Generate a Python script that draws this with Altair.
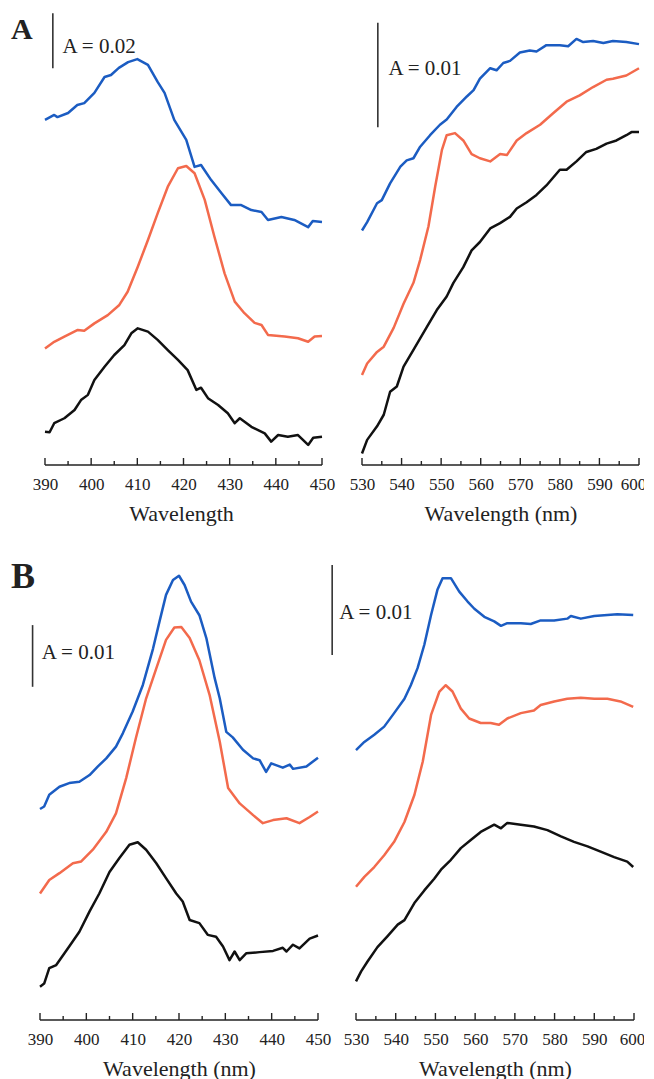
import altair as alt
import pandas as pd

FONT = "Liberation Serif"
BLUE = "#1b5cc2"
ORANGE = "#f36a4c"
BLACK = "#111111"
INK = "#222222"

# ---------------- Panel A, Soret region (absorbance, mA) ----------------
AL_BLUE_WL = [390, 392, 392.7, 395, 397, 398.5, 400.7, 402.9, 404.3, 406, 408, 410, 412.3, 414.4, 415.9, 418,
              420.6, 422.4, 423.8, 426, 428.2, 430.3, 432.5, 434.7, 436.9, 438.3, 441.2, 444, 447, 448, 450]
AL_BLUE = [125.5, 127.3, 126.5, 128.0, 130.9, 131.6, 135.3, 141.1, 141.8, 144.4, 146.5, 147.6, 145.5, 139.3, 135.3,
           125.5, 118.2, 108.4, 109.1, 103.6, 98.9, 94.5, 94.5, 92.7, 92.0, 89.1, 90.2, 89.1, 86.5, 88.7, 88.4]
AL_ORANGE_WL = [390, 392, 394.2, 397.1, 398.5, 400.7, 403.6, 406.1, 407.9, 410.1, 412.3, 414.4, 416.6, 418.8, 420.6,
                422.4, 424.6, 426.7, 428.9, 431.1, 433.2, 435.4, 436.9, 438.3, 441.9, 444.8, 447, 448.4, 450]
AL_ORANGE = [42.4, 44.8, 46.7, 49.1, 48.8, 51.5, 54.5, 58.2, 63.0, 72.1, 81.8, 91.5, 101.2, 107.9, 108.7, 106.1,
             96.4, 83.0, 69.7, 59.4, 55.2, 51.7, 50.9, 47.3, 46.7, 46.1, 44.8, 46.7, 46.9]
AL_BLACK_WL = [390, 391, 392, 394.2, 396.4, 397.8, 399.3, 400.7, 402.9, 405, 407.2, 408.7, 410.1, 412.3, 414.4,
               416.6, 418.8, 420.9, 422.8, 423.8, 425.3, 427.5, 429.6, 431.1, 432.2, 434.7, 437.6, 439, 440.5,
               442.6, 444.8, 447, 448.1, 450]
AL_BLACK = [12.1, 11.9, 15.2, 17.0, 20.0, 23.6, 25.5, 30.9, 35.7, 40.0, 43.6, 47.9, 49.7, 48.5, 45.5, 41.8, 38.2,
            34.5, 27.3, 28.1, 24.3, 21.8, 18.8, 15.2, 17.0, 13.9, 11.5, 8.5, 10.9, 10.3, 10.9, 7.3, 9.9, 10.3]

# ---------------- Panel A, Q-band region ----------------
AR_BLUE_WL = [530, 531.3, 533.8, 535, 537.1, 539.7, 541.3, 543, 544.7, 547.2, 549.7, 551.4, 553.9, 556.5, 558.2,
              559.8, 562.4, 564, 565.7, 567.4, 569.9, 572.4, 574.1, 576.6, 580, 582.1, 584.2, 585.9, 588.4, 591,
              593.4, 596.8, 600]
AR_BLUE = [22.4, 23.2, 25.0, 25.3, 26.9, 28.5, 29.1, 29.3, 30.4, 31.5, 32.5, 33.0, 34.2, 35.2, 35.8, 36.9, 37.9,
           37.7, 38.4, 38.6, 39.4, 39.6, 39.5, 40.1, 40.1, 40.0, 40.7, 40.4, 40.5, 40.3, 40.5, 40.4, 40.2]
AR_ORANGE_WL = [530, 531.3, 533.8, 535.5, 538, 540.5, 543, 544.7, 546.8, 548.5, 550.2, 551.4, 553.5, 555.6, 557.7,
                559.8, 562.4, 564.9, 566.6, 569.1, 571.6, 575, 578.3, 581.7, 585, 588.4, 591.8, 593.4, 596.8, 600]
AR_ORANGE = [8.6, 9.7, 10.8, 11.3, 13.1, 15.4, 17.4, 19.6, 22.8, 26.6, 30.1, 31.5, 31.7, 31.0, 29.7, 29.3, 29.0,
             29.7, 29.6, 31.0, 31.7, 32.5, 33.6, 34.7, 35.3, 36.1, 36.8, 36.9, 37.2, 37.9]
AR_BLACK_WL = [530, 531.3, 533.8, 535.5, 537.1, 538.8, 540.5, 543, 546.4, 548.9, 551.4, 553.1, 555.6, 557.7, 559.8,
               562.4, 564.9, 567.4, 569.1, 571.6, 574.1, 576.6, 580, 581.7, 584.2, 586.7, 589.2, 591.8, 594.3,
               596.8, 598.1, 600]
AR_BLACK = [1.1, 2.4, 3.7, 4.8, 7.0, 7.5, 9.4, 11.0, 13.2, 14.8, 16.1, 17.4, 18.9, 20.5, 21.3, 22.6, 23.1, 23.7,
            24.5, 25.1, 25.8, 26.7, 28.2, 28.2, 29.0, 29.9, 30.2, 30.7, 31.0, 31.5, 31.8, 31.8]

# ---------------- Panel B, Soret region ----------------
BL_BLUE_WL = [390, 390.9, 392, 394.2, 396.3, 398.5, 400.7, 402.5, 404.3, 406.4, 407.9, 410, 412.2, 414.4, 415.8,
              417.2, 418.7, 420, 421.2, 422.6, 424.4, 425.9, 427.7, 428.8, 430.2, 431.6, 433.8, 436, 437.4, 438.8,
              439.9, 442.4, 443.9, 444.6, 447.5, 450]
BL_BLUE = [34.2, 34.6, 36.5, 37.8, 38.4, 38.6, 39.7, 41.1, 42.4, 44.3, 46.5, 50.0, 54.3, 60.2, 64.6, 68.9, 71.3,
           72.0, 70.5, 67.8, 65.6, 61.9, 55.4, 52.1, 46.7, 45.8, 43.8, 42.4, 42.1, 40.2, 41.6, 40.9, 41.4, 40.7,
           41.1, 42.5]
BL_ORANGE_WL = [390, 392, 394.2, 397.1, 398.9, 401.4, 404.3, 406.4, 408.6, 410.7, 412.9, 415.1, 417.2, 419, 420.5,
                422.3, 424.4, 426.6, 428.8, 430.6, 433.1, 436, 438.1, 440.3, 443.2, 446, 448.2, 450]
BL_ORANGE = [20.5, 22.7, 23.8, 25.4, 25.7, 27.6, 30.5, 33.5, 39.2, 45.7, 52.1, 57.0, 61.6, 63.6, 63.7, 61.9, 58.3,
             52.7, 45.1, 37.6, 35.1, 33.2, 31.9, 32.4, 32.7, 31.9, 32.9, 33.8]
BL_BLACK_WL = [390, 390.9, 392, 393.5, 396.3, 398.5, 400.7, 402.8, 405, 407.1, 409.3, 411.1, 412.9, 415.1, 417.2,
               419.4, 420.8, 422.3, 424.4, 426.2, 428, 429.5, 430.9, 432, 433.1, 434.5, 437.4, 440.3, 442.4, 443.2,
               444.6, 446, 448.2, 450]
BL_BLACK = [5.4, 5.9, 8.4, 8.9, 11.9, 14.3, 17.6, 20.5, 24.0, 26.2, 28.4, 28.8, 27.6, 25.4, 23.0, 20.5, 19.2, 16.2,
            15.7, 13.8, 13.5, 11.9, 9.7, 11.1, 9.7, 10.8, 11.0, 11.2, 11.7, 11.1, 12.2, 11.6, 13.2, 13.7]

# ---------------- Panel B, Q-band region ----------------
BR_BLUE_WL = [530, 532.1, 534.6, 537.1, 539.6, 542.2, 543.8, 545.5, 547.2, 548.9, 550.5, 551.8, 553.9, 556, 558.1,
              559.8, 562.3, 564.8, 566.5, 568.1, 571.5, 574, 576.5, 579.9, 583.2, 584.1, 586.6, 590, 593.3, 595.8,
              599.8]
BR_BLUE = [30.0, 30.9, 31.7, 32.6, 34.1, 35.7, 37.2, 39.1, 41.7, 45.0, 47.8, 49.1, 49.1, 47.6, 46.5, 45.7, 44.8,
           44.3, 43.8, 44.1, 44.1, 44.0, 44.4, 44.4, 44.6, 44.9, 44.6, 44.9, 45.0, 45.1, 45.0]
BR_ORANGE_WL = [530, 532.1, 534.6, 537.1, 539.6, 542.2, 544.7, 546.8, 548.9, 551, 552.6, 554.3, 556.4, 558.5, 561.4,
                563.9, 566, 568.1, 571.5, 574.8, 576.5, 579.9, 583.2, 586.6, 590, 593.3, 596.6, 599.8]
BR_ORANGE = [14.8, 15.9, 17.0, 18.3, 19.8, 22.0, 25.0, 28.7, 33.9, 36.5, 37.2, 36.5, 34.6, 33.5, 33.0, 33.0, 32.8,
             33.5, 34.1, 34.4, 35.0, 35.4, 35.7, 35.8, 35.7, 35.7, 35.4, 34.8]
BR_BLACK_WL = [530, 531.3, 532.9, 535.4, 537.9, 540.5, 542.2, 544.7, 547.2, 549.7, 551.4, 553.9, 556.4, 558.9,
               561.4, 564.8, 566.5, 568.1, 571.5, 574.8, 578.2, 581.6, 584.9, 588.3, 591.6, 595, 598.3, 599.8]
BR_BLACK = [4.3, 5.4, 6.5, 8.1, 9.3, 10.6, 11.1, 13.0, 14.4, 15.7, 16.7, 17.8, 19.1, 20.0, 20.9, 21.7, 21.3, 21.9,
            21.7, 21.5, 21.1, 20.4, 19.8, 19.3, 18.7, 18.1, 17.6, 17.0]

SORET_MAJOR = [390, 400, 410, 420, 430, 440, 450]
SORET_MINOR = [395, 405, 415, 425, 435, 445]
Q_MAJOR = [530, 540, 550, 560, 570, 580, 590, 600]
Q_MINOR = [535, 545, 555, 565, 575, 585, 595]

H = 455


def panel(lines, xdom, width, ytop, majors, minors, title, bar, label=None, label_size=30, last_shift=0):
    df = pd.concat([pd.DataFrame({"wl": wl, "a": v, "series": s}) for s, wl, v in lines])
    xs = alt.Scale(domain=xdom, nice=False, zero=False)
    ys = alt.Scale(domain=[0, ytop], nice=False, zero=False)
    axis_kw = dict(values=majors, format="d", ticks=False, tickSize=0, domain=False,
                   labelFont=FONT, labelFontSize=17, labelColor=INK, labelPadding=11.5,
                   labelFlush=False, labelOverlap=False, labelSeparation=0,
                   grid=False, title=title, titleFont=FONT,
                   titleFontSize=22, titleFontWeight="normal", titleColor=INK, titlePadding=11)
    if last_shift:
        axis_kw["labelOffset"] = {"condition": {"test": "datum.value === %d" % majors[-1], "value": last_shift},
                                  "value": 0}
    xaxis = alt.Axis(**axis_kw)

    def xe(f):
        return alt.X(f, scale=xs, axis=xaxis, title=title)

    def ye(f):
        return alt.Y(f, scale=ys, axis=None)

    base = alt.Chart(df).mark_line(strokeWidth=2.5, strokeJoin="round").encode(
        x=xe("wl:Q"), y=ye("a:Q"),
        color=alt.Color("series:N", scale=alt.Scale(domain=["blue", "orange", "black"],
                                                    range=[BLUE, ORANGE, BLACK]), legend=None),
    )
    axis_line = alt.Chart(pd.DataFrame({"wl": [majors[0]], "e": [majors[-1]]})).mark_rule(
        color=INK, strokeWidth=1.6).encode(x=xe("wl:Q"), x2="e:Q", y=alt.value(H))
    major = alt.Chart(pd.DataFrame({"wl": majors})).mark_rule(color=INK, strokeWidth=1.4).encode(
        x=xe("wl:Q"), y=alt.value(H), y2=alt.value(H - 7))
    minor = alt.Chart(pd.DataFrame({"wl": minors})).mark_rule(color=INK, strokeWidth=1.4).encode(
        x=xe("wl:Q"), y=alt.value(H), y2=alt.value(H - 4))
    bx, blo, bhi, tx, ty, txt = bar
    bar_rule = alt.Chart(pd.DataFrame({"wl": [bx], "a": [blo], "hi": [bhi]})).mark_rule(
        color="#333333", strokeWidth=1.6).encode(x=xe("wl:Q"), y=ye("a:Q"), y2="hi:Q")
    bar_text = alt.Chart(pd.DataFrame({"wl": [tx], "a": [ty], "t": [txt]})).mark_text(
        font=FONT, fontSize=21, color=INK, align="left", baseline="alphabetic").encode(
        x=xe("wl:Q"), y=ye("a:Q"), text="t:N")
    layers = [base, axis_line, major, minor, bar_rule, bar_text]
    if label is not None:
        lx, ly, lt = label
        layers.append(alt.Chart(pd.DataFrame({"wl": [lx], "a": [ly], "t": [lt]})).mark_text(
            font=FONT, fontSize=label_size, fontWeight="bold", color=INK, align="left",
            baseline="alphabetic").encode(x=xe("wl:Q"), y=ye("a:Q"), text="t:N"))
    return alt.layer(*layers).properties(width=width, height=H)


a_left = panel([("blue", AL_BLUE_WL, AL_BLUE), ("orange", AL_ORANGE_WL, AL_ORANGE), ("black", AL_BLACK_WL, AL_BLACK)],
               [388.92, 450], 282, 165.45, SORET_MAJOR, SORET_MINOR, "Wavelength",
               (391.7, 144.3, 164.3, 393.8, 149.9, "A = 0.02"), label=(382.64, 154.8, "A"), label_size=30)
a_right = panel([("blue", AR_BLUE_WL, AR_BLUE), ("orange", AR_ORANGE_WL, AR_ORANGE), ("black", AR_BLACK_WL, AR_BLACK)],
                [530, 600], 277, 43.46, Q_MAJOR, Q_MINOR, "Wavelength (nm)",
                (534.0, 32.25, 42.25, 536.7, 37.25, "A = 0.01"), last_shift=-6)
b_left = panel([("blue", BL_BLUE_WL, BL_BLUE), ("orange", BL_ORANGE_WL, BL_ORANGE), ("black", BL_BLACK_WL, BL_BLACK)],
               [390, 450], 278, 73.74, SORET_MAJOR, SORET_MINOR, "Wavelength (nm)",
               (388.4, 54.0, 64.0, 390.4, 58.5, "A = 0.01"), label=(383.74, 70.0, "B"), label_size=36)
b_right = panel([("blue", BR_BLUE_WL, BR_BLUE), ("orange", BR_ORANGE_WL, BR_ORANGE), ("black", BR_BLACK_WL, BR_BLACK)],
                [530, 600], 278, 50.56, Q_MAJOR, Q_MINOR, "Wavelength (nm)",
                (524.0, 40.56, 50.56, 525.8, 44.6, "A = 0.01"), last_shift=-2)

row_a = alt.hconcat(a_left, a_right, spacing=14)
row_b = alt.hconcat(b_left, b_right, spacing=0)

chart = alt.vconcat(row_a, row_b, spacing=34).properties(
    padding={"left": 2, "top": 2, "right": -2, "bottom": 0},
    background="white",
).configure(font=FONT).configure_axis(labelOverlap=False).configure_view(stroke=None)

chart.save("out.html", embed_options={"renderer": "svg", "actions": False})
